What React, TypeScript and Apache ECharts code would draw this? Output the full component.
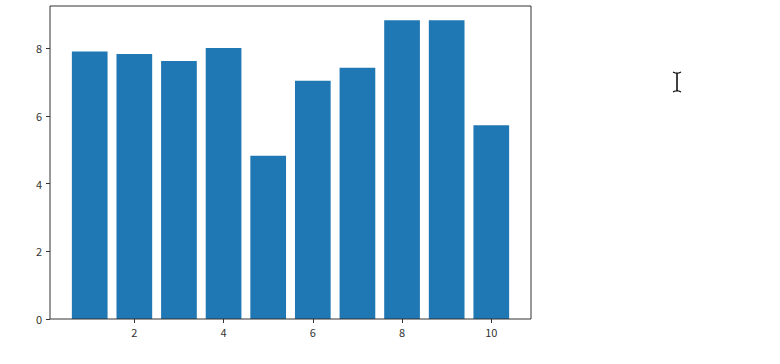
import React, { useEffect, useRef } from "react";
import * as echarts from "echarts";

const positions = [1, 2, 3, 4, 5, 6, 7, 8, 9, 10];
const values = [7.9, 7.82, 7.62, 8.0, 4.82, 7.03, 7.42, 8.82, 8.82, 5.72];
const xTicks = [2, 4, 6, 8, 10];
const yTicks = [0, 2, 4, 6, 8];
const barWidthUnits = 0.8;

export default function App() {
  const ref = useRef<HTMLDivElement>(null);
  useEffect(() => {
    if (!ref.current) return;
    const chart = echarts.init(ref.current, undefined, { renderer: "svg" });
    const data = positions.map((p, i) => [p, values[i]]);
    chart.setOption({
      animation: false,
      backgroundColor: "#ffffff",
      grid: {
        left: 50,
        top: 6,
        right: 249,
        bottom: 45,
        show: true,
        borderColor: "#333333",
        borderWidth: 1,
        backgroundColor: "transparent",
        z: 10,
      },
      xAxis: {
        type: "value",
        min: 0.11,
        max: 10.89,
        splitLine: { show: false },
        axisLine: { show: false },
        axisTick: {
          show: true,
          length: 4,
          lineStyle: { color: "#333333" },
          customValues: xTicks,
        },
        axisLabel: {
          customValues: xTicks,
          color: "#333333",
          fontFamily: "Noto Sans CJK SC, DejaVu Sans, sans-serif",
          fontSize: 11,
          margin: 7,
        },
      },
      yAxis: {
        type: "value",
        min: 0,
        max: 9.24,
        splitLine: { show: false },
        axisLine: { show: false },
        axisTick: {
          show: true,
          length: 4,
          lineStyle: { color: "#333333" },
          customValues: yTicks,
        },
        axisLabel: {
          customValues: yTicks,
          color: "#333333",
          fontFamily: "Noto Sans CJK SC, DejaVu Sans, sans-serif",
          fontSize: 11,
          margin: 8,
        },
      },
      graphic: [
        {
          type: "line",
          shape: { x1: 677, y1: 73, x2: 677, y2: 91 },
          style: { stroke: "#000000", lineWidth: 1.5 },
        },
        {
          type: "polyline",
          shape: { points: [[673, 72], [675, 73], [679, 73], [681, 72]] },
          style: { stroke: "#000000", lineWidth: 1.2, fill: "none" },
        },
        {
          type: "polyline",
          shape: { points: [[673, 92], [675, 91], [679, 91], [681, 92]] },
          style: { stroke: "#000000", lineWidth: 1.2, fill: "none" },
        },
      ],
      series: [
        {
          type: "custom",
          data,
          renderItem: (params: any, api: any) => {
            const x = api.value(0);
            const y = api.value(1);
            const p0 = api.coord([x - barWidthUnits / 2, 0]);
            const p1 = api.coord([x + barWidthUnits / 2, y]);
            return {
              type: "rect",
              shape: {
                x: p0[0],
                y: p1[1],
                width: p1[0] - p0[0],
                height: p0[1] - p1[1],
              },
              style: { fill: "#1f77b4" },
            };
          },
        },
      ],
    });
    return () => chart.dispose();
  }, []);
  return (
    <div
      ref={ref}
      style={{ position: "fixed", left: 0, top: 0, width: 780, height: 364 }}
    />
  );
}
